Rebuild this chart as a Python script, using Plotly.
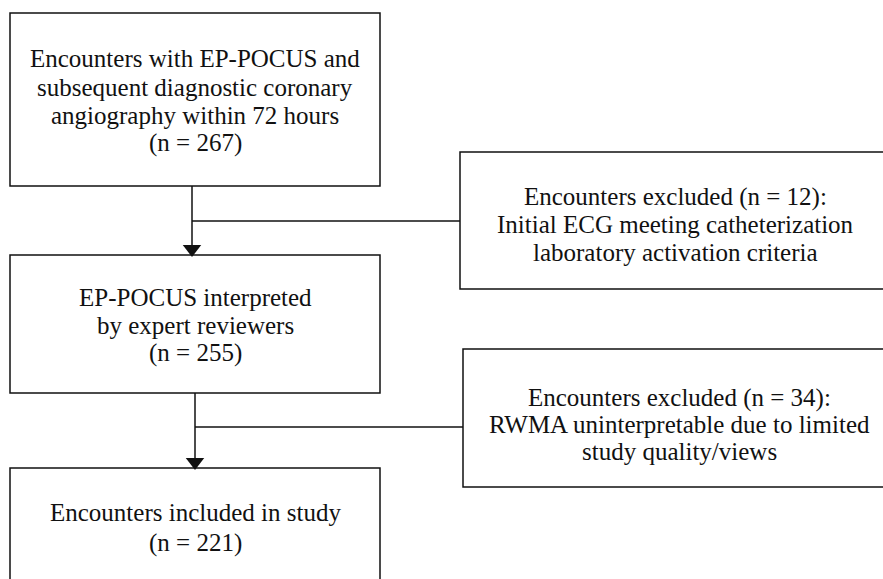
import plotly.graph_objects as go

# flow counts
main_n = [267, 255, 221]
excluded_n = [12, 34]

main_lines = [
    ["Encounters with EP-POCUS and", "subsequent diagnostic coronary",
     "angiography within 72 hours", "(n = {})"],
    ["EP-POCUS interpreted", "by expert reviewers", "(n = {})"],
    ["Encounters included in study", "(n = {})"],
]
excluded_lines = [
    ["Encounters excluded (n = {}):", "Initial ECG meeting catheterization",
     "laboratory activation criteria"],
    ["Encounters excluded (n = {}):", "RWMA uninterpretable due to limited",
     "study quality/views"],
]

# layout geometry (pixels, y grows downward)
main_boxes = [(10, 13, 380, 186), (10, 255, 380, 393), (10, 468, 380, 600)]
excl_boxes = [(460, 152, 1200, 289), (463, 349, 1200, 487)]
excl_text_x = [675, 679]
main_text_y = [[58, 87, 115, 143], [297, 325, 353], [512, 543]]
excl_text_y = [[197, 224, 252], [398, 424, 451]]
arrow_x = [192, 195]
branch_y = [221, 427]

INK = "#111111"
FONT = dict(family="Liberation Serif", size=25, color=INK)

fig = go.Figure()


def add_box(fig, box):
    x0, y0, x1, y1 = box
    fig.add_shape(type="rect", x0=x0, y0=y0, x1=x1, y1=y1,
                  line=dict(color=INK, width=1.5), fillcolor="white", layer="below")


def add_text(fig, lines, ys, xc, n):
    for line, y in zip(lines, ys):
        fig.add_annotation(x=xc, y=y, text=line.format(n), showarrow=False,
                           xanchor="center", yanchor="middle", font=FONT)


for box, lines, ys, n in zip(main_boxes, main_lines, main_text_y, main_n):
    add_box(fig, box)
    add_text(fig, lines, ys, (box[0] + box[2]) / 2, n)

for box, lines, ys, xc, n in zip(excl_boxes, excluded_lines, excl_text_y,
                                 excl_text_x, excluded_n):
    add_box(fig, box)
    add_text(fig, lines, ys, xc, n)

# connectors: vertical stem, branch to exclusion box, arrow head
for i in range(2):
    x = arrow_x[i]
    top = main_boxes[i][3]
    bottom = main_boxes[i + 1][1]
    fig.add_trace(go.Scatter(x=[x, x], y=[top, bottom - 8], mode="lines",
                             line=dict(color=INK, width=1.5), hoverinfo="skip"))
    fig.add_trace(go.Scatter(x=[x, excl_boxes[i][0]], y=[branch_y[i], branch_y[i]],
                             mode="lines", line=dict(color=INK, width=1.5),
                             hoverinfo="skip"))
    fig.add_trace(go.Scatter(x=[x], y=[bottom - 6], mode="markers",
                             marker=dict(symbol="triangle-down", size=16, color=INK),
                             hoverinfo="skip"))

fig.update_xaxes(range=[0, 883], visible=False, fixedrange=True)
fig.update_yaxes(range=[579, 0], visible=False, fixedrange=True)
fig.update_layout(width=883, height=579, margin=dict(l=0, r=0, t=0, b=0),
                  plot_bgcolor="white", paper_bgcolor="white", showlegend=False)

# drop the default page margin so the figure sits at the window's corner
fig.write_html("out.html", config={"displayModeBar": False},
               post_script="document.body.style.margin='0';"
                           "document.body.style.overflow='hidden';")
